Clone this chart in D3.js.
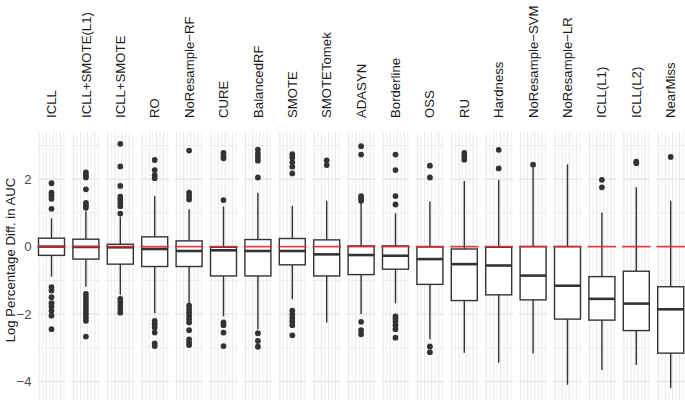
<!DOCTYPE html>
<html>
<head>
<meta charset="utf-8">
<script src="https://cdn.jsdelivr.net/npm/d3@7"></script>
<style>
  body { margin: 0; background: #fff; }
  text { font-family: "Liberation Sans", Arial, sans-serif; }
</style>
</head>
<body>
<div id="chart"></div>
<script>
// one facet per method
var methods = ["ICLL", "ICLL+SMOTE(L1)", "ICLL+SMOTE", "RO", "NoResample\u2212RF", "CURE",
  "BalancedRF", "SMOTE", "SMOTETomek", "ADASYN", "Borderline", "OSS", "RU", "Hardness",
  "NoResample\u2212SVM", "NoResample\u2212LR", "ICLL(L1)", "ICLL(L2)", "NearMiss"];
var whiskerHigh = [0.84, 1.05, 0.89, 1.5, 1.11, 1.19, 1.6, 1.21, 1.36, 1.3, 0.99, 1.34, 1.95, 1.98, 2.35, 2.44, 1.01, 1.76, 1.36];
var q3 = [0.25, 0.22, 0.07, 0.29, 0.17, -0.02, 0.21, 0.24, 0.2, 0.02, 0.02, -0.01, -0.07, -0.02, 0.0, 0.0, -0.89, -0.73, -1.19];
var median = [0.0, -0.01, -0.02, -0.07, -0.13, -0.11, -0.13, -0.13, -0.23, -0.25, -0.27, -0.37, -0.52, -0.56, -0.86, -1.16, -1.55, -1.69, -1.86];
var q1 = [-0.26, -0.37, -0.52, -0.59, -0.59, -0.87, -0.87, -0.54, -0.87, -0.83, -0.67, -1.12, -1.6, -1.43, -1.58, -2.15, -2.18, -2.49, -3.16];
var whiskerLow = [-0.89, -1.19, -1.43, -1.98, -1.68, -2.07, -2.45, -1.56, -2.25, -2.0, -1.68, -2.75, -3.15, -3.44, -3.17, -4.1, -3.66, -3.51, -4.2];
var outliers = [
  [1.88, 1.6, 1.52, 1.42, 1.12, -1.2, -1.3, -1.5, -1.68, -1.78, -1.9, -2.05, -2.45],
  [2.2, 2.12, 2.05, 1.7, 1.3, 1.22, 1.15, -1.4, -1.5, -1.6, -1.7, -1.8, -1.9, -2.0, -2.1, -2.2, -2.67],
  [3.05, 2.38, 1.8, 1.48, 1.4, 1.3, 1.2, 0.98, -1.55, -1.65, -1.75, -1.85, -1.96],
  [2.57, 2.27, 2.12, 2.03, -2.2, -2.3, -2.4, -2.55, -2.87, -2.95],
  [2.85, 1.6, 1.5, 1.4, -1.75, -1.85, -1.95, -2.05, -2.15, -2.25, -2.48, -2.75, -2.85, -2.92],
  [2.78, 2.68, 2.62, 1.38, -2.25, -2.33, -2.55, -2.95],
  [2.88, 2.76, 2.66, 2.55, 2.05, -2.57, -2.8, -2.97],
  [2.74, 2.64, 2.5, 2.37, 2.17, -1.9, -2.02, -2.12, -2.22, -2.33, -2.63],
  [2.56, 2.42],
  [2.98, 2.73, 1.5, 1.43, 1.36, -2.23, -2.48, -2.6],
  [2.73, 2.27, 1.5, 1.25, -2.07, -2.15, -2.23, -2.33, -2.45, -2.7],
  [2.4, 2.05, -2.96, -3.13],
  [2.78, 2.68, 2.58],
  [2.87, 2.32],
  [2.43],
  [],
  [1.98, 1.76],
  [2.52, 2.47],
  [2.66]
];
var yTicks = [-4, -2, 0, 2];
var yMinor = [-3, -1, 1, 3];

var width = 685, height = 401;
var svg = d3.select("#chart").append("svg")
    .attr("width", width)
    .attr("height", height);

var x = d3.scaleBand()
    .domain(methods)
    .range([37.3, 684.9])
    .paddingInner(0.174)
    .paddingOuter(0);
var y = d3.scaleLinear()
    .domain([-4.55, 3.4])
    .range([400, 132]);
// continuous x inside each facet, only used for its grid lines
var xin = d3.scaleLinear().domain([0, 8]).range([0, x.bandwidth()]);

var panel = svg.selectAll(".panel")
    .data(methods)
    .enter().append("g")
    .attr("class", "panel")
    .attr("transform", function(d) { return "translate(" + x(d) + ",0)"; });

panel.selectAll(".vgrid")
    .data(d3.range(0.5, 8, 1))
    .enter().append("line")
    .attr("x1", function(d) { return xin(d); })
    .attr("x2", function(d) { return xin(d); })
    .attr("y1", y.range()[1])
    .attr("y2", y.range()[0])
    .attr("stroke", function(d, i) { return i % 2 ? "#f0f0f0" : "#e6e6e6"; })
    .attr("stroke-width", 1);

panel.selectAll(".hminor")
    .data(yMinor)
    .enter().append("line")
    .attr("x1", 0).attr("x2", x.bandwidth())
    .attr("y1", function(d) { return y(d); })
    .attr("y2", function(d) { return y(d); })
    .attr("stroke", "#ececec")
    .attr("stroke-width", 1);

panel.selectAll(".hmajor")
    .data(yTicks)
    .enter().append("line")
    .attr("x1", 0).attr("x2", x.bandwidth())
    .attr("y1", function(d) { return y(d); })
    .attr("y2", function(d) { return y(d); })
    .attr("stroke", "#e4e4e4")
    .attr("stroke-width", 1.2);

var bw = x.bandwidth() * 0.915;
var bx = (x.bandwidth() - bw) / 2;
var cx = x.bandwidth() / 2;
var dark = "#333333";

panel.append("line")
    .attr("x1", cx).attr("x2", cx)
    .attr("y1", function(d, i) { return y(whiskerHigh[i]); })
    .attr("y2", function(d, i) { return y(q3[i]); })
    .attr("stroke", dark).attr("stroke-width", 1.4);
panel.append("line")
    .attr("x1", cx).attr("x2", cx)
    .attr("y1", function(d, i) { return y(q1[i]); })
    .attr("y2", function(d, i) { return y(whiskerLow[i]); })
    .attr("stroke", dark).attr("stroke-width", 1.4);

panel.append("rect")
    .attr("x", bx)
    .attr("width", bw)
    .attr("y", function(d, i) { return y(q3[i]); })
    .attr("height", function(d, i) { return y(q1[i]) - y(q3[i]); })
    .attr("fill", "#fff")
    .attr("stroke", dark)
    .attr("stroke-width", 1.4);

panel.append("line")
    .attr("x1", bx).attr("x2", bx + bw)
    .attr("y1", function(d, i) { return y(median[i]); })
    .attr("y2", function(d, i) { return y(median[i]); })
    .attr("stroke", dark).attr("stroke-width", 2.6);

panel.selectAll(".out")
    .data(function(d, i) { return outliers[i]; })
    .enter().append("circle")
    .attr("cx", cx)
    .attr("cy", function(d) { return y(d); })
    .attr("r", 2.9)
    .attr("fill", dark);

// zero reference line in every facet
panel.append("line")
    .attr("x1", 0).attr("x2", x.bandwidth())
    .attr("y1", y(0)).attr("y2", y(0))
    .attr("stroke", "#e8262b")
    .attr("stroke-opacity", 0.9)
    .attr("stroke-width", 1.7);

// strip labels
panel.append("text")
    .attr("transform", "translate(" + (cx + 4.6) + ",118) rotate(-90)")
    .style("font-size", "13.2px")
    .attr("fill", "#1a1a1a")
    .text(function(d) { return d; });

// y axis
svg.selectAll(".ytick")
    .data(yTicks)
    .enter().append("text")
    .attr("x", 31.5)
    .attr("y", function(d) { return y(d); })
    .attr("dy", "0.36em")
    .attr("text-anchor", "end")
    .style("font-size", "13.2px")
    .attr("fill", "#4d4d4d")
    .text(function(d) { return d < 0 ? "\u2212" + Math.abs(d) : d; });

svg.append("text")
    .attr("transform", "translate(14.5," + 260 + ") rotate(-90)")
    .attr("text-anchor", "middle")
    .style("font-size", "13.2px")
    .attr("fill", "#1a1a1a")
    .text("Log Percentage Diff. in AUC");
</script>
</body>
</html>
